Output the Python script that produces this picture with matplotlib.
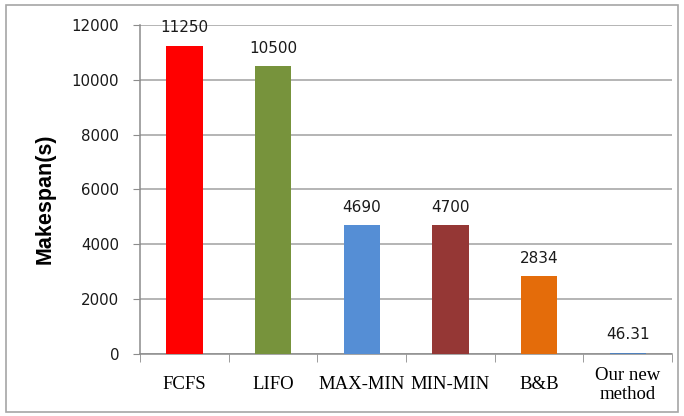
import numpy as np
import matplotlib.pyplot as plt
from matplotlib.patches import Rectangle

methods = ["FCFS", "LIFO", "MAX-MIN", "MIN-MIN", "B&B", "Our new\nmethod"]
makespan = [11250, 10500, 4690, 4700, 2834, 46.31]
value_text = ["11250", "10500", "4690", "4700", "2834", "46.31"]
bar_colors = ["#FF0000", "#77933C", "#558ED5", "#953735", "#E46C0A", "#4F81BD"]
y_ticks = [0, 2000, 4000, 6000, 8000, 10000, 12000]

fig = plt.figure(figsize=(6.84, 4.16), dpi=100)
ax = fig.add_axes([0.2047, 0.149, 0.7778, 0.791])

# outer frame around the whole chart
fig.patches.append(Rectangle((6 / 684, 4 / 416), 672 / 684, 407 / 416,
                             transform=fig.transFigure, fill=False,
                             edgecolor="#A6A6A6", linewidth=1.2))

x = np.arange(len(methods))
ax.bar(x, makespan, width=0.41, color=bar_colors, zorder=3)

for xi, v, t in zip(x, makespan, value_text):
    ax.text(xi, v + 380, t, ha="center", va="bottom", fontsize=11,
            color="#1a1a1a", zorder=4)

ax.set_xlim(-0.5, len(methods) - 0.5)
ax.set_ylim(0, 12000)
ax.set_yticks(y_ticks)
ax.set_yticklabels([str(t) for t in y_ticks], fontsize=10.8, color="#1a1a1a")
ax.tick_params(axis="y", direction="out", length=5, color="#8C8C8C", pad=10)

ax.set_xticks(x)
ax.set_xticklabels(methods, fontsize=13.5, family="Liberation Serif")
for lbl in ax.get_xticklabels():
    lbl.set_va("center")
    lbl.set_linespacing(1.15)
ax.tick_params(axis="x", which="major", length=0, pad=22)
ax.set_xticks(np.arange(-0.5, len(methods)), minor=True)
ax.tick_params(axis="x", which="minor", direction="out", length=6,
               color="#8C8C8C")

ax.yaxis.grid(True, color="#A0A0A0", linewidth=1.1, zorder=0)
ax.set_axisbelow(True)
for side in ("top", "right"):
    ax.spines[side].set_visible(False)
for side in ("left", "bottom"):
    ax.spines[side].set_color("#8C8C8C")
    ax.spines[side].set_linewidth(1.1)

ax.set_ylabel("Makespan(s)", fontsize=15.5, fontweight="bold",
              family="Liberation Sans", va="center")
ax.yaxis.set_label_coords(-0.178, 0.473)

fig.savefig("out.png", dpi=100)
